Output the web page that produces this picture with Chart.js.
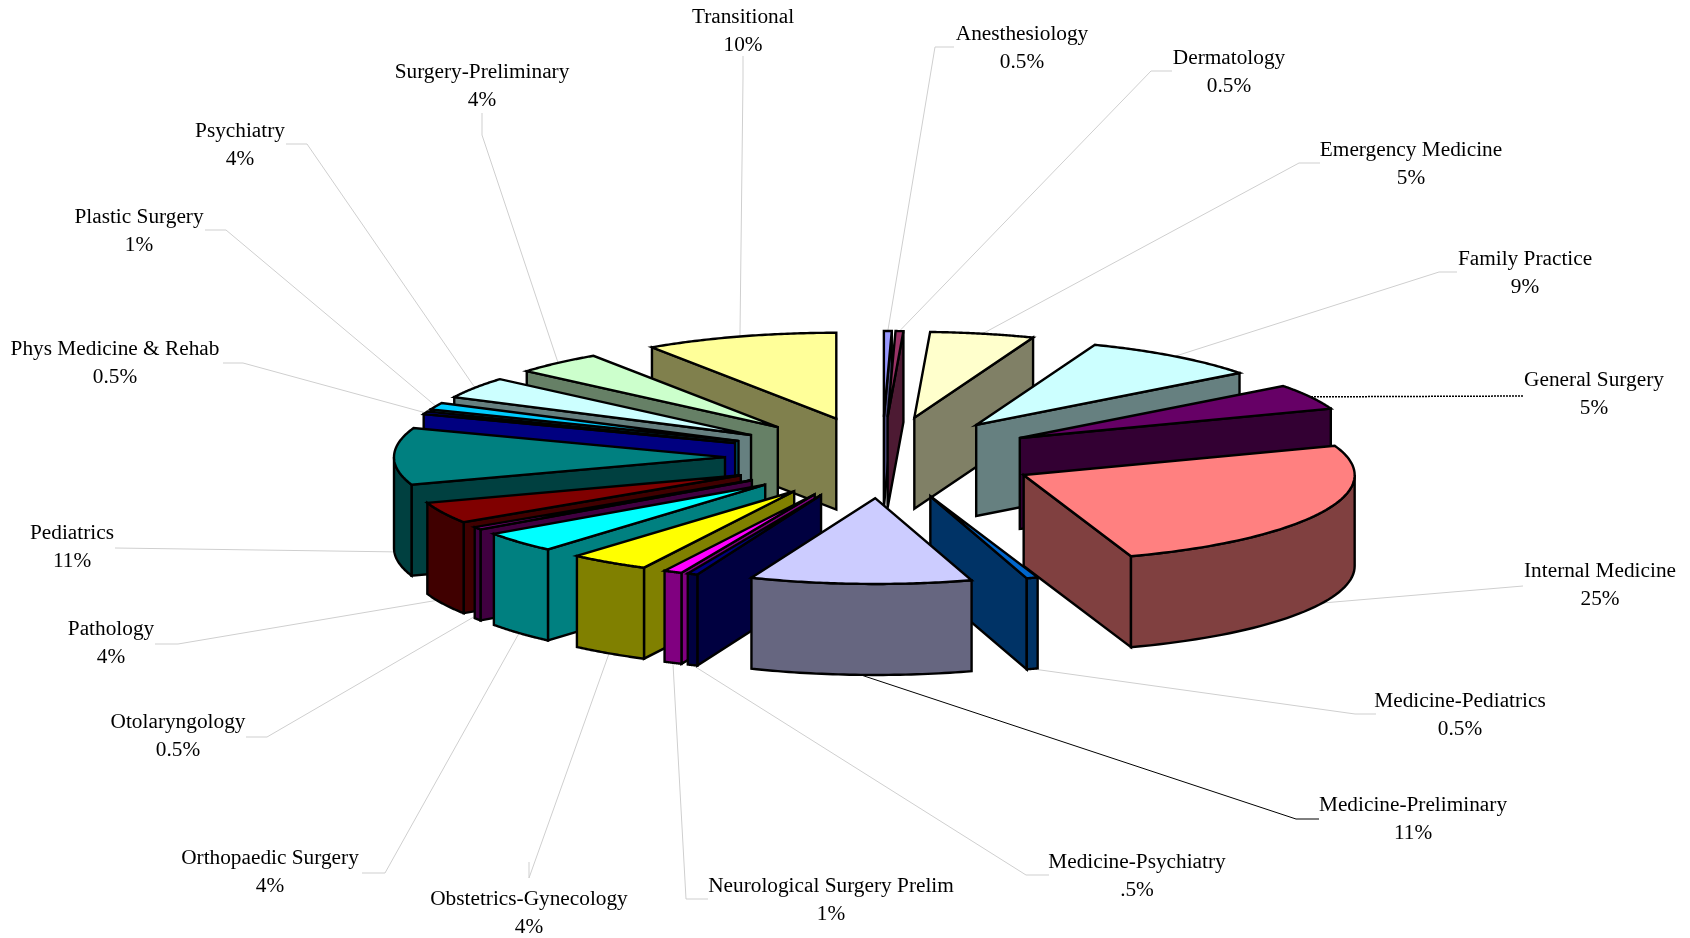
<!DOCTYPE html>
<html><head><meta charset="utf-8">
<style>html,body{margin:0;padding:0;background:#fff}canvas{display:block}</style>
<script src="https://cdn.jsdelivr.net/npm/chart.js@4/dist/chart.umd.js"></script>
</head><body><canvas id="c" width="1690" height="938"></canvas>
<script>
const categories = ["Anesthesiology","Dermatology","Emergency Medicine","Family Practice","General Surgery","Internal Medicine","Medicine-Pediatrics","Medicine-Preliminary","Medicine-Psychiatry","Neurological Surgery Prelim","Obstetrics-Gynecology","Orthopaedic Surgery","Otolaryngology","Pathology","Pediatrics","Phys Medicine & Rehab","Plastic Surgery","Psychiatry","Surgery-Preliminary","Transitional"];
const shares = [0.38,0.38,5.08,8.8,4.8,25.3,0.55,10.8,0.5,0.9,3.9,3.9,0.5,4,10.7,0.5,1.3,4,4.3,9.4];
const shareLabels = ["0.5%","0.5%","5%","9%","5%","25%","0.5%","11%",".5%","1%","4%","4%","0.5%","4%","11%","0.5%","1%","4%","4%","10%"];
const topColors = ["#9999FF","#993366","#FFFFCC","#CCFFFF","#660066","#FF8080","#0066CC","#CCCCFF","#000080","#FF00FF","#FFFF00","#00FFFF","#800080","#800000","#008080","#0000FF","#00CCFF","#CCFFFF","#CCFFCC","#FFFF99"];

// layout (full-size pixels): label centre x, first-line centre y
const labelX = [1022,1229,1411,1525,1594,1600,1460,1413,1137,831,529,270,178,111,72,115,139,240,482,743];
const labelY = [34,58,150,259,380,571,701,805,862,886,899,858,722,629,533,349,217,131,72,17];
// leader line: elbow points from the label, then the rim of the slice
const leaders = [
 [[954,47],[935,47]],[[1172,71],[1151,71]],[[1320,163],[1299,163]],[[1457,272],[1439,272]],
 [[1523,396]],[[1523,586]],[[1376,714],[1355,714]],[[1319,819],[1296,819]],
 [[1049,875],[1026,875]],[[708,899],[686,899]],[[529,862],[529,878]],[[362,873],[385,873]],
 [[246,737],[267,737]],[[155,644],[178,644]],[[115,548]],[[223,363],[243,363]],
 [[205,230],[226,230]],[[286,144],[307,144]],[[482,113],[482,135]],[[743,56],[743,78]]
];
const leaderDrop = [0,0,0,0,0,1,1,1,1,1,1,1,0.95,0.95,1.05,0,0,0,0,0];
const darkLeader = [4,7];
const EXPLODE = 157, SQUASH = 0.2592, DEPTH = 91;

function shade(hex){
  const n = parseInt(hex.slice(1),16);
  const f = v => Math.round(v*0.5);
  return `rgb(${f(n>>16&255)},${f(n>>8&255)},${f(n&255)})`;
}

const pie3d = {
  id:'pie3d',
  beforeDatasetDraw(chart){
    const ctx = chart.ctx, arcs = chart.getDatasetMeta(0).data;
    const geo = arcs.map((arc,i)=>{
      const mid=(arc.startAngle+arc.endAngle)/2, e=arc.options.offset;
      return {i,arc,mid,r:arc.outerRadius,a:arc.startAngle,b:arc.endAngle,
        ax:arc.x+Math.cos(mid)*e, ay:arc.y+Math.sin(mid)*e*SQUASH};
    });
    const pt=(g,t,dz=0)=>[g.ax+Math.cos(t)*g.r, g.ay+Math.sin(t)*g.r*SQUASH+dz];
    // leaders
    ctx.save();
    geo.forEach(g=>{
      const dark=darkLeader.includes(g.i);
      ctx.beginPath();
      const pts=leaders[g.i].concat([pt(g,g.mid,DEPTH*leaderDrop[g.i])]);
      pts.forEach((p,k)=>k?ctx.lineTo(p[0],p[1]):ctx.moveTo(p[0],p[1]));
      ctx.strokeStyle= dark?'#000':'#cfcfcf';
      ctx.lineWidth=1;
      if(g.i===4){ctx.setLineDash([2,1]);ctx.lineWidth=1.5}else ctx.setLineDash([]);
      ctx.stroke();
    });
    ctx.setLineDash([]);
    // slices, back to front
    ctx.lineWidth=2.4; ctx.lineJoin='miter'; ctx.miterLimit=6; ctx.strokeStyle='#000';
    const poly=(pts,fill)=>{
      ctx.beginPath();
      pts.forEach((p,k)=>k?ctx.lineTo(p[0],p[1]):ctx.moveTo(p[0],p[1]));
      ctx.closePath(); ctx.fillStyle=fill; ctx.fill(); ctx.stroke();
    };
    geo.slice().sort((p,q)=>Math.sin(p.mid)-Math.sin(q.mid)).forEach(g=>{
      const top=topColors[g.i], side=shade(top), apex=[g.ax,g.ay], low=[g.ax,g.ay+DEPTH];
      if(Math.cos(g.a)<0) poly([apex,pt(g,g.a),pt(g,g.a,DEPTH),low],side);
      if(Math.cos(g.b)>0) poly([apex,pt(g,g.b),pt(g,g.b,DEPTH),low],side);
      // outer wall: only the part of the rim that faces the viewer
      for(const k of [0,1]){
        const lo=Math.max(g.a,k*2*Math.PI), hi=Math.min(g.b,Math.PI+k*2*Math.PI);
        if(hi>lo){
          const upper=[],lower=[];
          for(let s=0;s<=40;s++){const t=lo+(hi-lo)*s/40;upper.push(pt(g,t));lower.unshift(pt(g,t,DEPTH));}
          poly(upper.concat(lower),side);
        }
      }
      const rim=[apex];
      for(let s=0;s<=60;s++) rim.push(pt(g,g.a+(g.b-g.a)*s/60));
      poly(rim,top);
    });
    // labels
    ctx.fillStyle='#000'; ctx.font='21.3px "Liberation Serif"'; ctx.textAlign='center'; ctx.textBaseline='middle';
    categories.forEach((c,i)=>{
      ctx.fillText(c,labelX[i],labelY[i]);
      ctx.fillText(shareLabels[i],labelX[i],labelY[i]+28);
    });
    ctx.restore();
    return false;
  }
};

new Chart(document.getElementById('c'),{
  type:'pie',
  data:{labels:categories,datasets:[{data:shares,backgroundColor:topColors,borderColor:'#000',borderWidth:2,offset:EXPLODE}]},
  options:{
    responsive:false,animation:false,events:[],radius:331,
    layout:{padding:{left:74,bottom:23}},
    plugins:{legend:{display:false},tooltip:{enabled:false}}
  },
  plugins:[pie3d]
});
</script></body></html>
